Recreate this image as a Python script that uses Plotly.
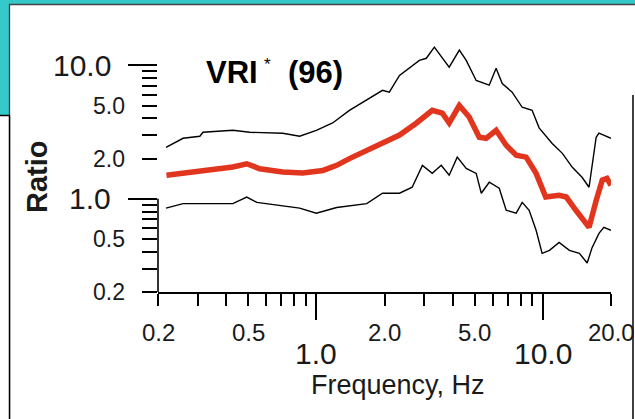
import math
import plotly.graph_objects as go

# ---- data: spectral ratio vs frequency (upper bound, median, lower bound) ----
freq_hi = [0.217, 0.258, 0.306, 0.316, 0.428, 0.508, 0.711, 0.844, 1.0, 1.18, 1.40, 1.67,
           1.96, 2.10, 2.33, 2.85, 3.06, 3.32, 3.60, 3.86, 4.28, 4.59, 5.08, 5.80, 6.22,
           6.62, 7.32, 8.11, 8.97, 9.63, 11.0, 12.2, 13.5, 14.9, 16.0, 17.2, 17.7, 18.6, 20.0]
ratio_hi = [2.43, 2.84, 2.94, 3.15, 3.26, 3.15, 3.10, 2.94, 3.26, 3.70, 4.60, 5.50,
            6.50, 6.30, 8.40, 10.9, 11.3, 13.7, 11.3, 9.70, 13.0, 10.9, 7.70, 7.10, 9.50,
            7.30, 6.30, 4.85, 4.60, 3.40, 2.60, 2.19, 1.72, 1.45, 1.22, 2.89, 3.10, 3.00, 2.84]

freq_med = [0.218, 0.258, 0.306, 0.364, 0.428, 0.493, 0.562, 0.711, 0.870, 1.07, 1.23, 1.40,
            1.67, 1.96, 2.33, 2.77, 3.25, 3.60, 3.86, 4.28, 4.73, 5.24, 5.62, 6.22, 6.89,
            7.63, 8.44, 9.34, 10.3, 11.8, 12.7, 14.0, 15.5, 16.0, 17.2, 18.3, 19.2, 20.0]
ratio_med = [1.50, 1.55, 1.59, 1.66, 1.73, 1.83, 1.68, 1.59, 1.56, 1.63, 1.78, 2.00,
             2.31, 2.59, 3.00, 3.70, 4.60, 4.38, 3.70, 5.00, 4.10, 2.89, 2.84, 3.26, 2.52,
             2.12, 2.05, 1.55, 1.03, 1.06, 1.03, 0.82, 0.67, 0.61, 0.97, 1.38, 1.42, 1.26]

freq_lo = [0.217, 0.258, 0.428, 0.493, 0.546, 0.711, 0.844, 1.0, 1.23, 1.67, 1.96, 2.33,
           2.65, 2.94, 3.25, 3.56, 3.86, 4.19, 4.59, 5.08, 5.35, 5.80, 6.42, 6.89, 7.63,
           8.11, 8.70, 9.34, 9.93, 10.7, 11.8, 13.1, 14.5, 15.7, 16.5, 17.7, 18.6, 20.0]
ratio_lo = [0.85, 0.92, 0.92, 1.03, 0.94, 0.89, 0.85, 0.78, 0.86, 0.92, 1.10, 1.10,
            1.22, 1.78, 1.55, 1.78, 1.50, 2.05, 1.69, 1.55, 1.10, 1.33, 1.20, 0.82, 0.78,
            0.94, 0.82, 0.58, 0.39, 0.41, 0.47, 0.41, 0.39, 0.33, 0.43, 0.55, 0.61, 0.58]

# ---- axes ----
x_range = [0.2, 20.0]
y_axis_span = [0.2, 10.0]
x_major = [1.0, 10.0]
x_minor = [0.2, 0.3, 0.4, 0.5, 0.6, 0.7, 0.8, 0.9, 2, 3, 4, 5, 6, 7, 8, 9, 20]
y_major = [1.0, 10.0]
y_minor = [0.2, 0.3, 0.4, 0.5, 0.6, 0.7, 0.8, 0.9, 2, 3, 4, 5, 6, 7, 8, 9]
x_labels_small = [0.2, 0.5, 2.0, 5.0, 20.0]
x_labels_big = [1.0, 10.0]
y_labels_small = [0.2, 0.5, 2.0, 5.0]
y_labels_big = [1.0, 10.0]

title_main = "VRI"
title_mark = "*"
title_count = "(96)"
x_title = "Frequency, Hz"
y_title = "Ratio"

# ---- page geometry ----
W, H = 635, 419
L, R, T, B = 158, 24, 40, 127
PW, PH = W - L - R, H - T - B
PX_PER_DECADE_Y = 133.4
TEAL = "#35C9C9"
FONT = "Arial, Liberation Sans, sans-serif"
INK = "#1a1a1a"

# headroom above the labelled axis so the upper curve can rise past 10
y_lo = math.log10(y_axis_span[0])
y_hi = y_lo + PH / PX_PER_DECADE_Y


def px(x):
    return (x - L) / PW


def py(y):
    return (H - B - y) / PH


fig = go.Figure()
fig.add_trace(go.Scatter(x=freq_hi, y=ratio_hi, mode="lines",
                         line=dict(color="black", width=1.4), hoverinfo="skip"))
fig.add_trace(go.Scatter(x=freq_lo, y=ratio_lo, mode="lines",
                         line=dict(color="black", width=1.4), hoverinfo="skip"))
fig.add_trace(go.Scatter(x=freq_med, y=ratio_med, mode="lines",
                         line=dict(color="#E2351E", width=5.5), hoverinfo="skip"))

shapes = [
    # main white panel
    dict(type="rect", xref="paper", yref="paper", layer="below",
         x0=px(9.5), x1=px(645), y0=py(430), y1=py(4.5),
         fillcolor="white", line=dict(color="#444", width=1.3)),
    # neighbouring panel at lower left
    dict(type="rect", xref="paper", yref="paper", layer="below",
         x0=px(-10), x1=px(9.5), y0=py(430), y1=py(115.5),
         fillcolor="white", line=dict(color="black", width=1.5)),
    # neighbouring panel edge at right
    dict(type="line", xref="paper", yref="paper", layer="below",
         x0=px(633), x1=px(633), y0=py(95), y1=py(430),
         line=dict(color="black", width=1.5)),
    # y axis spine, only over the labelled span
    dict(type="line", xref="paper", yref="y", layer="above",
         x0=0, x1=0, y0=math.log10(y_axis_span[0]), y1=math.log10(y_axis_span[1]),
         line=dict(color="black", width=1.6)),
]

ann = []
for v in y_labels_small:
    ann.append(dict(x=0, xref="paper", y=math.log10(v), yref="y", text=f"{v:.1f}",
                    xanchor="right", yanchor="middle", xshift=-31, showarrow=False,
                    font=dict(family=FONT, size=23, color=INK)))
for v in y_labels_big:
    ann.append(dict(x=0, xref="paper", y=math.log10(v), yref="y", text=f"{v:.1f}",
                    xanchor="right", yanchor="middle", xshift=-45, showarrow=False,
                    font=dict(family=FONT, size=30, color=INK)))
for v in x_labels_small:
    ann.append(dict(x=math.log10(v), xref="x", y=0, yref="paper", text=f"{v:.1f}",
                    xanchor="center", yanchor="middle", yshift=-40, showarrow=False,
                    font=dict(family=FONT, size=24, color=INK)))
for v in x_labels_big:
    ann.append(dict(x=math.log10(v), xref="x", y=0, yref="paper", text=f"{v:.1f}",
                    xanchor="center", yanchor="middle", yshift=-61, showarrow=False,
                    font=dict(family=FONT, size=30, color=INK)))

ann += [
    dict(x=px(398), xref="paper", y=py(385), yref="paper", text=x_title,
         xanchor="center", yanchor="middle", showarrow=False,
         font=dict(family=FONT, size=27, color=INK)),
    dict(x=px(37), xref="paper", y=py(177), yref="paper", text=f"<b>{y_title}</b>",
         textangle=-90, xanchor="center", yanchor="middle", showarrow=False,
         font=dict(family=FONT, size=29, color=INK)),
    dict(x=px(204), xref="paper", y=py(72), yref="paper", text=f"<b>{title_main}</b>",
         xanchor="left", yanchor="middle", showarrow=False,
         font=dict(family=FONT, size=31, color="black")),
    dict(x=px(267), xref="paper", y=py(64), yref="paper", text=title_mark,
         xanchor="center", yanchor="middle", showarrow=False,
         font=dict(family=FONT, size=17, color="black")),
    dict(x=px(286), xref="paper", y=py(72), yref="paper", text=f"<b>{title_count}</b>",
         xanchor="left", yanchor="middle", showarrow=False,
         font=dict(family=FONT, size=31, color="black")),
]

fig.update_layout(
    width=W, height=H,
    margin=dict(l=L, r=R, t=T, b=B, pad=0),
    paper_bgcolor=TEAL, plot_bgcolor="rgba(0,0,0,0)",
    showlegend=False,
    shapes=shapes,
    annotations=ann,
    xaxis=dict(type="log", range=[math.log10(x_range[0]), math.log10(x_range[1])],
               showgrid=False, zeroline=False, showline=True, linecolor="black", linewidth=1.6,
               tickmode="array", tickvals=x_major, ticks="outside", ticklen=26,
               tickwidth=1.6, tickcolor="black", showticklabels=False, automargin=False,
               minor=dict(tickmode="array", tickvals=x_minor, ticks="outside", ticklen=12,
                          tickwidth=1.6, tickcolor="black", showgrid=False)),
    yaxis=dict(type="log", range=[y_lo, y_hi],
               showgrid=False, zeroline=False, showline=False,
               tickmode="array", tickvals=y_major, ticks="outside", ticklen=29,
               tickwidth=1.6, tickcolor="black", showticklabels=False, automargin=False,
               minor=dict(tickmode="array", tickvals=y_minor, ticks="outside", ticklen=15,
                          tickwidth=1.6, tickcolor="black", showgrid=False)),
)

fig.write_html("out.html")
